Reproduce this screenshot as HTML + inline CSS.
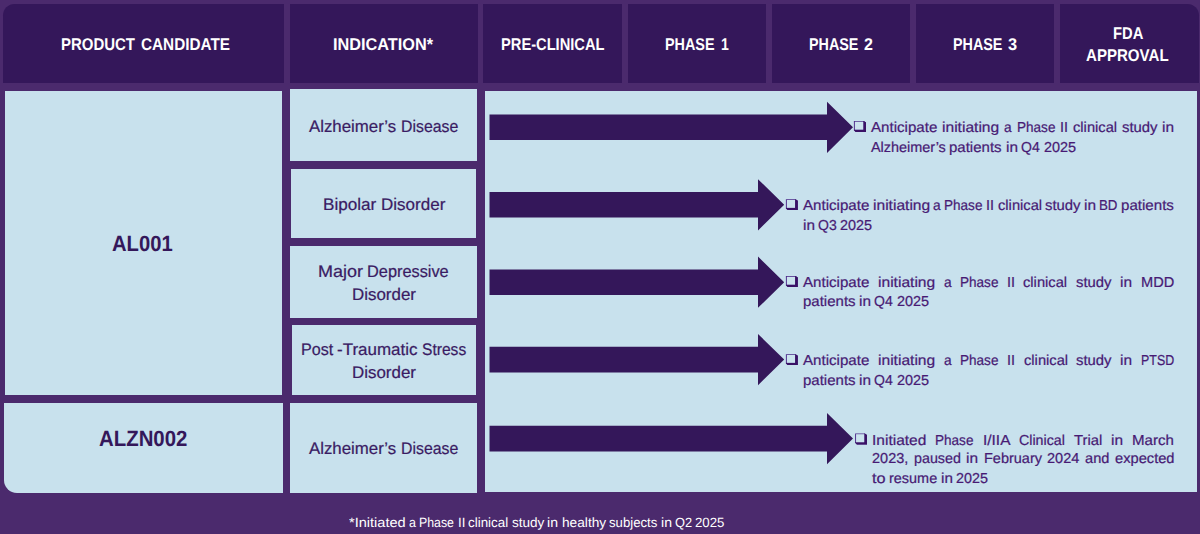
<!DOCTYPE html>
<html><head><meta charset="utf-8"><title>Pipeline</title>
<style>
html,body{margin:0;padding:0}
body{width:1200px;height:534px;background:#4b2a6d;position:relative;overflow:hidden;font-family:"Liberation Sans",sans-serif}
body>div,body>svg{position:absolute;box-sizing:content-box}
.t{white-space:nowrap;transform-origin:0 0;text-rendering:geometricPrecision;-webkit-text-stroke:0.22px currentColor}
</style></head><body>
<div style="left:2.7px;top:4.0px;width:281.2px;height:78.7px;background:#34175a;border-top-left-radius:11.5px;"></div>
<div style="left:289.9px;top:4.0px;width:187.9px;height:78.7px;background:#34175a;"></div>
<div style="left:483.35px;top:4.0px;width:138.5px;height:78.7px;background:#34175a;"></div>
<div style="left:627.75px;top:4.0px;width:138.25px;height:78.7px;background:#34175a;"></div>
<div style="left:772.0px;top:4.0px;width:138.0px;height:78.7px;background:#34175a;"></div>
<div style="left:916.15px;top:4.0px;width:138.35px;height:78.7px;background:#34175a;"></div>
<div style="left:1060.3px;top:4.0px;width:138.4px;height:78.7px;background:#34175a;border-top-right-radius:11.5px;"></div>
<div class="t" style="left:60.80px;top:35.00px;font-size:17.0px;line-height:19px;font-weight:700;-webkit-text-stroke:0;color:#fff;transform:scaleX(0.8804)">PRODUCT</div>
<div class="t" style="left:140.75px;top:35.00px;font-size:17.0px;line-height:19px;font-weight:700;-webkit-text-stroke:0;color:#fff;transform:scaleX(0.9005)">CANDIDATE</div>
<div class="t" style="left:333.20px;top:35.00px;font-size:17.0px;line-height:19px;font-weight:700;-webkit-text-stroke:0;color:#fff;transform:scaleX(0.9577)">INDICATION*</div>
<div class="t" style="left:501.20px;top:35.00px;font-size:17.0px;line-height:19px;font-weight:700;-webkit-text-stroke:0;color:#fff;transform:scaleX(0.8630)">PRE-CLINICAL</div>
<div class="t" style="left:664.70px;top:35.00px;font-size:17.0px;line-height:19px;font-weight:700;-webkit-text-stroke:0;color:#fff;transform:scaleX(0.8461)">PHASE</div>
<div class="t" style="left:720.70px;top:35.00px;font-size:17.0px;line-height:19px;font-weight:700;-webkit-text-stroke:0;color:#fff;transform:scaleX(0.8252)">1</div>
<div class="t" style="left:809.10px;top:35.00px;font-size:17.0px;line-height:19px;font-weight:700;-webkit-text-stroke:0;color:#fff;transform:scaleX(0.8435)">PHASE</div>
<div class="t" style="left:863.90px;top:35.00px;font-size:17.0px;line-height:19px;font-weight:700;-webkit-text-stroke:0;color:#fff;transform:scaleX(0.9416)">2</div>
<div class="t" style="left:952.80px;top:35.00px;font-size:17.0px;line-height:19px;font-weight:700;-webkit-text-stroke:0;color:#fff;transform:scaleX(0.8435)">PHASE</div>
<div class="t" style="left:1007.90px;top:35.00px;font-size:17.0px;line-height:19px;font-weight:700;-webkit-text-stroke:0;color:#fff;transform:scaleX(0.9628)">3</div>
<div class="t" style="left:1112.50px;top:24.00px;font-size:17.0px;line-height:19px;font-weight:700;-webkit-text-stroke:0;color:#fff;transform:scaleX(0.8673)">FDA</div>
<div class="t" style="left:1086.20px;top:46.00px;font-size:17.0px;line-height:19px;font-weight:700;-webkit-text-stroke:0;color:#fff;transform:scaleX(0.8863)">APPROVAL</div>
<div style="left:4.6px;top:90.5px;width:277.5px;height:304.4px;background:#c8e1ed;"></div>
<div style="left:3.8px;top:402.9px;width:279.3px;height:90.25px;background:#c8e1ed;border-bottom-left-radius:13px;"></div>
<div class="t" style="left:112.40px;top:231.00px;font-size:22px;line-height:25px;font-weight:700;-webkit-text-stroke:0;color:#34175a;transform:scaleX(0.9179)">AL001</div>
<div class="t" style="left:98.60px;top:426.00px;font-size:22px;line-height:25px;font-weight:700;-webkit-text-stroke:0;color:#34175a;transform:scaleX(0.9269)">ALZN002</div>
<div style="left:290.2px;top:89.1px;width:186.86px;height:72.1px;background:#c8e1ed;"></div>
<div style="left:291.4px;top:168.7px;width:184.64px;height:69.8px;background:#c8e1ed;"></div>
<div style="left:290.0px;top:245.87px;width:187.06px;height:72.16px;background:#c8e1ed;"></div>
<div style="left:291.5px;top:325.2px;width:184.54px;height:69.77px;background:#c8e1ed;"></div>
<div style="left:289.95px;top:402.8px;width:187.11px;height:90.65px;background:#c8e1ed;"></div>
<div class="t" style="left:309.20px;top:117px;font-size:16.8px;line-height:19px;color:#3a1b63;transform:scaleX(1.0016)">Alzheimer’s</div>
<div class="t" style="left:400.66px;top:117px;font-size:16.8px;line-height:19px;color:#3a1b63;transform:scaleX(0.9446)">Disease</div>
<div class="t" style="left:323.10px;top:195px;font-size:16.8px;line-height:19px;color:#3a1b63;transform:scaleX(1.0194)">Bipolar</div>
<div class="t" style="left:380.59px;top:195px;font-size:16.8px;line-height:19px;color:#3a1b63;transform:scaleX(1.0145)">Disorder</div>
<div class="t" style="left:318.20px;top:262px;font-size:16.8px;line-height:19px;color:#3a1b63;transform:scaleX(1.0726)">Major</div>
<div class="t" style="left:367.42px;top:262px;font-size:16.8px;line-height:19px;color:#3a1b63;transform:scaleX(0.9732)">Depressive</div>
<div class="t" style="left:351.80px;top:285px;font-size:16.8px;line-height:19px;color:#3a1b63;transform:scaleX(1.0081)">Disorder</div>
<div class="t" style="left:300.80px;top:340px;font-size:16.8px;line-height:19px;color:#3a1b63;transform:scaleX(0.9616)">Post</div>
<div class="t" style="left:337.25px;top:340px;font-size:16.8px;line-height:19px;color:#3a1b63;transform:scaleX(1.0115)">-Traumatic</div>
<div class="t" style="left:421.95px;top:340px;font-size:16.8px;line-height:19px;color:#3a1b63;transform:scaleX(0.9294)">Stress</div>
<div class="t" style="left:351.80px;top:363px;font-size:16.8px;line-height:19px;color:#3a1b63;transform:scaleX(1.0081)">Disorder</div>
<div class="t" style="left:309.20px;top:439px;font-size:16.8px;line-height:19px;color:#3a1b63;transform:scaleX(1.0016)">Alzheimer’s</div>
<div class="t" style="left:400.66px;top:439px;font-size:16.8px;line-height:19px;color:#3a1b63;transform:scaleX(0.9446)">Disease</div>
<div style="left:485.03px;top:90.5px;width:711.97px;height:401.4px;background:#c8e1ed;"></div>
<svg width="1200" height="534" style="left:0;top:0" fill="#34175a"><polygon points="489.5,114.5 827.0,114.5 827.0,101.7 853.0,127.3 827.0,152.9 827.0,140.1 489.5,140.1"/><polygon points="489.5,192.0 758.0,192.0 758.0,179.2 784.2,204.8 758.0,230.4 758.0,217.6 489.5,217.6"/><polygon points="489.5,269.4 758.0,269.4 758.0,256.6 784.2,282.2 758.0,307.8 758.0,295.0 489.5,295.0"/><polygon points="489.5,346.8 758.0,346.8 758.0,334.0 784.2,359.6 758.0,385.2 758.0,372.4 489.5,372.4"/><polygon points="489.5,425.8 827.0,425.8 827.0,413.0 853.0,438.6 827.0,464.2 827.0,451.4 489.5,451.4"/></svg>
<svg width="1200" height="534" style="left:0;top:0"><polygon points="853.90,120.90 863.80,120.90 866.00,122.40 866.00,131.90 855.70,131.90 853.90,130.20" fill="#4d2a8a"/><polygon points="863.25,121.10 863.80,120.90 866.00,122.40 866.00,131.90 855.70,131.90 853.90,130.20 854.10,129.65 863.25,129.65" fill="#3a1266"/><rect x="854.85" y="121.70" width="8.40" height="7.95" fill="#cbe3ee"/><polygon points="785.90,199.20 795.60,199.20 797.80,200.70 797.80,210.10 787.70,210.10 785.90,208.40" fill="#4d2a8a"/><polygon points="795.05,199.40 795.60,199.20 797.80,200.70 797.80,210.10 787.70,210.10 785.90,208.40 786.10,207.85 795.05,207.85" fill="#3a1266"/><rect x="786.85" y="200.00" width="8.20" height="7.85" fill="#cbe3ee"/><polygon points="785.90,276.00 795.60,276.00 797.80,277.50 797.80,286.90 787.70,286.90 785.90,285.20" fill="#4d2a8a"/><polygon points="795.05,276.20 795.60,276.00 797.80,277.50 797.80,286.90 787.70,286.90 785.90,285.20 786.10,284.65 795.05,284.65" fill="#3a1266"/><rect x="786.85" y="276.80" width="8.20" height="7.85" fill="#cbe3ee"/><polygon points="785.90,354.20 795.60,354.20 797.80,355.70 797.80,365.10 787.70,365.10 785.90,363.40" fill="#4d2a8a"/><polygon points="795.05,354.40 795.60,354.20 797.80,355.70 797.80,365.10 787.70,365.10 785.90,363.40 786.10,362.85 795.05,362.85" fill="#3a1266"/><rect x="786.85" y="355.00" width="8.20" height="7.85" fill="#cbe3ee"/><polygon points="855.10,433.40 864.80,433.40 867.00,434.90 867.00,444.50 856.90,444.50 855.10,442.80" fill="#4d2a8a"/><polygon points="864.25,433.60 864.80,433.40 867.00,434.90 867.00,444.50 856.90,444.50 855.10,442.80 855.30,442.25 864.25,442.25" fill="#3a1266"/><rect x="856.05" y="434.20" width="8.20" height="8.05" fill="#cbe3ee"/></svg>
<div class="t" style="left:871.00px;top:120px;font-size:14.4px;line-height:16px;color:#471a74;transform:scaleX(1.0486)">Anticipate</div>
<div class="t" style="left:942.14px;top:120px;font-size:14.4px;line-height:16px;color:#471a74;transform:scaleX(1.0833)">initiating</div>
<div class="t" style="left:1004.21px;top:120px;font-size:14.4px;line-height:16px;color:#471a74;transform:scaleX(0.9540)">a</div>
<div class="t" style="left:1016.67px;top:120px;font-size:14.4px;line-height:16px;color:#471a74;transform:scaleX(0.9413)">Phase</div>
<div class="t" style="left:1059.93px;top:120px;font-size:14.4px;line-height:16px;color:#471a74;transform:scaleX(1.0045)">II</div>
<div class="t" style="left:1072.80px;top:120px;font-size:14.4px;line-height:16px;color:#471a74;transform:scaleX(1.0217)">clinical</div>
<div class="t" style="left:1121.78px;top:120px;font-size:14.4px;line-height:16px;color:#471a74;transform:scaleX(1.0332)">study</div>
<div class="t" style="left:1162.16px;top:120px;font-size:14.4px;line-height:16px;color:#471a74;transform:scaleX(1.0743)">in</div>
<div class="t" style="left:871.00px;top:140px;font-size:14.4px;line-height:16px;color:#471a74;transform:scaleX(1.0026)">Alzheimer’s</div>
<div class="t" style="left:949.47px;top:140px;font-size:14.4px;line-height:16px;color:#471a74;transform:scaleX(1.0434)">patients</div>
<div class="t" style="left:1005.68px;top:140px;font-size:14.4px;line-height:16px;color:#471a74;transform:scaleX(1.0683)">in</div>
<div class="t" style="left:1021.24px;top:140px;font-size:14.4px;line-height:16px;color:#471a74;transform:scaleX(0.9741)">Q4</div>
<div class="t" style="left:1043.54px;top:140px;font-size:14.4px;line-height:16px;color:#471a74;transform:scaleX(1.0038)">2025</div>
<div class="t" style="left:803.00px;top:198px;font-size:14.4px;line-height:16px;color:#471a74;transform:scaleX(1.0486)">Anticipate</div>
<div class="t" style="left:872.69px;top:198px;font-size:14.4px;line-height:16px;color:#471a74;transform:scaleX(1.0833)">initiating</div>
<div class="t" style="left:933.30px;top:198px;font-size:14.4px;line-height:16px;color:#471a74;transform:scaleX(0.9540)">a</div>
<div class="t" style="left:944.32px;top:198px;font-size:14.4px;line-height:16px;color:#471a74;transform:scaleX(0.9413)">Phase</div>
<div class="t" style="left:986.13px;top:198px;font-size:14.4px;line-height:16px;color:#471a74;transform:scaleX(1.0045)">II</div>
<div class="t" style="left:997.54px;top:198px;font-size:14.4px;line-height:16px;color:#471a74;transform:scaleX(1.0217)">clinical</div>
<div class="t" style="left:1045.07px;top:198px;font-size:14.4px;line-height:16px;color:#471a74;transform:scaleX(1.0332)">study</div>
<div class="t" style="left:1084.01px;top:198px;font-size:14.4px;line-height:16px;color:#471a74;transform:scaleX(1.0743)">in</div>
<div class="t" style="left:1099.42px;top:198px;font-size:14.4px;line-height:16px;color:#471a74;transform:scaleX(0.9243)">BD</div>
<div class="t" style="left:1121.29px;top:198px;font-size:14.4px;line-height:16px;color:#471a74;transform:scaleX(1.0493)">patients</div>
<div class="t" style="left:802.60px;top:218px;font-size:14.4px;line-height:16px;color:#471a74;transform:scaleX(1.0665)">in</div>
<div class="t" style="left:818.13px;top:218px;font-size:14.4px;line-height:16px;color:#471a74;transform:scaleX(0.9724)">Q3</div>
<div class="t" style="left:840.39px;top:218px;font-size:14.4px;line-height:16px;color:#471a74;transform:scaleX(1.0021)">2025</div>
<div class="t" style="left:803.00px;top:275px;font-size:14.4px;line-height:16px;color:#471a74;transform:scaleX(1.0486)">Anticipate</div>
<div class="t" style="left:877.88px;top:275px;font-size:14.4px;line-height:16px;color:#471a74;transform:scaleX(1.0833)">initiating</div>
<div class="t" style="left:943.68px;top:275px;font-size:14.4px;line-height:16px;color:#471a74;transform:scaleX(0.9540)">a</div>
<div class="t" style="left:959.89px;top:275px;font-size:14.4px;line-height:16px;color:#471a74;transform:scaleX(0.9413)">Phase</div>
<div class="t" style="left:1006.89px;top:275px;font-size:14.4px;line-height:16px;color:#471a74;transform:scaleX(1.0045)">II</div>
<div class="t" style="left:1023.49px;top:275px;font-size:14.4px;line-height:16px;color:#471a74;transform:scaleX(1.0217)">clinical</div>
<div class="t" style="left:1076.21px;top:275px;font-size:14.4px;line-height:16px;color:#471a74;transform:scaleX(1.0332)">study</div>
<div class="t" style="left:1120.34px;top:275px;font-size:14.4px;line-height:16px;color:#471a74;transform:scaleX(1.0743)">in</div>
<div class="t" style="left:1140.94px;top:275px;font-size:14.4px;line-height:16px;color:#471a74;transform:scaleX(1.0143)">MDD</div>
<div class="t" style="left:802.60px;top:294px;font-size:14.4px;line-height:16px;color:#471a74;transform:scaleX(1.0432)">patients</div>
<div class="t" style="left:858.80px;top:294px;font-size:14.4px;line-height:16px;color:#471a74;transform:scaleX(1.0680)">in</div>
<div class="t" style="left:874.35px;top:294px;font-size:14.4px;line-height:16px;color:#471a74;transform:scaleX(0.9738)">Q4</div>
<div class="t" style="left:896.65px;top:294px;font-size:14.4px;line-height:16px;color:#471a74;transform:scaleX(1.0036)">2025</div>
<div class="t" style="left:803.00px;top:353px;font-size:14.4px;line-height:16px;color:#471a74;transform:scaleX(1.0486)">Anticipate</div>
<div class="t" style="left:877.89px;top:353px;font-size:14.4px;line-height:16px;color:#471a74;transform:scaleX(1.0833)">initiating</div>
<div class="t" style="left:943.71px;top:353px;font-size:14.4px;line-height:16px;color:#471a74;transform:scaleX(0.9540)">a</div>
<div class="t" style="left:959.93px;top:353px;font-size:14.4px;line-height:16px;color:#471a74;transform:scaleX(0.9413)">Phase</div>
<div class="t" style="left:1006.94px;top:353px;font-size:14.4px;line-height:16px;color:#471a74;transform:scaleX(1.0045)">II</div>
<div class="t" style="left:1023.56px;top:353px;font-size:14.4px;line-height:16px;color:#471a74;transform:scaleX(1.0217)">clinical</div>
<div class="t" style="left:1076.29px;top:353px;font-size:14.4px;line-height:16px;color:#471a74;transform:scaleX(1.0332)">study</div>
<div class="t" style="left:1120.43px;top:353px;font-size:14.4px;line-height:16px;color:#471a74;transform:scaleX(1.0743)">in</div>
<div class="t" style="left:1141.05px;top:353px;font-size:14.4px;line-height:16px;color:#471a74;transform:scaleX(0.8633)">PTSD</div>
<div class="t" style="left:802.60px;top:373px;font-size:14.4px;line-height:16px;color:#471a74;transform:scaleX(1.0432)">patients</div>
<div class="t" style="left:858.80px;top:373px;font-size:14.4px;line-height:16px;color:#471a74;transform:scaleX(1.0680)">in</div>
<div class="t" style="left:874.35px;top:373px;font-size:14.4px;line-height:16px;color:#471a74;transform:scaleX(0.9738)">Q4</div>
<div class="t" style="left:896.65px;top:373px;font-size:14.4px;line-height:16px;color:#471a74;transform:scaleX(1.0036)">2025</div>
<div class="t" style="left:871.90px;top:433px;font-size:14.4px;line-height:16px;color:#471a74;transform:scaleX(1.0778)">Initiated</div>
<div class="t" style="left:935.24px;top:433px;font-size:14.4px;line-height:16px;color:#471a74;transform:scaleX(0.9413)">Phase</div>
<div class="t" style="left:982.65px;top:433px;font-size:14.4px;line-height:16px;color:#471a74;transform:scaleX(1.0718)">I/IIA</div>
<div class="t" style="left:1019.07px;top:433px;font-size:14.4px;line-height:16px;color:#471a74;transform:scaleX(0.9892)">Clinical</div>
<div class="t" style="left:1073.96px;top:433px;font-size:14.4px;line-height:16px;color:#471a74;transform:scaleX(1.0302)">Trial</div>
<div class="t" style="left:1111.23px;top:433px;font-size:14.4px;line-height:16px;color:#471a74;transform:scaleX(1.0743)">in</div>
<div class="t" style="left:1132.24px;top:433px;font-size:14.4px;line-height:16px;color:#471a74;transform:scaleX(1.0488)">March</div>
<div class="t" style="left:872.00px;top:451px;font-size:14.4px;line-height:16px;color:#471a74;transform:scaleX(1.0078)">2023,</div>
<div class="t" style="left:913.75px;top:451px;font-size:14.4px;line-height:16px;color:#471a74;transform:scaleX(0.9939)">paused</div>
<div class="t" style="left:966.13px;top:451px;font-size:14.4px;line-height:16px;color:#471a74;transform:scaleX(1.0743)">in</div>
<div class="t" style="left:983.60px;top:451px;font-size:14.4px;line-height:16px;color:#471a74;transform:scaleX(1.0067)">February</div>
<div class="t" style="left:1047.04px;top:451px;font-size:14.4px;line-height:16px;color:#471a74;transform:scaleX(1.0094)">2024</div>
<div class="t" style="left:1084.80px;top:451px;font-size:14.4px;line-height:16px;color:#471a74;transform:scaleX(1.0156)">and</div>
<div class="t" style="left:1114.63px;top:451px;font-size:14.4px;line-height:16px;color:#471a74;transform:scaleX(1.0192)">expected</div>
<div class="t" style="left:872.00px;top:471px;font-size:14.4px;line-height:16px;color:#471a74;transform:scaleX(1.1312)">to</div>
<div class="t" style="left:889.15px;top:471px;font-size:14.4px;line-height:16px;color:#471a74;transform:scaleX(1.0037)">resume</div>
<div class="t" style="left:940.90px;top:471px;font-size:14.4px;line-height:16px;color:#471a74;transform:scaleX(1.0611)">in</div>
<div class="t" style="left:956.36px;top:471px;font-size:14.4px;line-height:16px;color:#471a74;transform:scaleX(0.9970)">2025</div>
<div class="t" style="left:349.20px;top:515px;font-size:13.4px;line-height:15px;color:#fff;-webkit-text-stroke:0;transform:scaleX(1.0872)">*Initiated</div>
<div class="t" style="left:409.17px;top:515px;font-size:13.4px;line-height:15px;color:#fff;-webkit-text-stroke:0;transform:scaleX(0.9328)">a</div>
<div class="t" style="left:419.41px;top:515px;font-size:13.4px;line-height:15px;color:#fff;-webkit-text-stroke:0;transform:scaleX(0.9205)">Phase</div>
<div class="t" style="left:457.66px;top:515px;font-size:13.4px;line-height:15px;color:#fff;-webkit-text-stroke:0;transform:scaleX(0.9822)">II</div>
<div class="t" style="left:468.26px;top:515px;font-size:13.4px;line-height:15px;color:#fff;-webkit-text-stroke:0;transform:scaleX(0.9990)">clinical</div>
<div class="t" style="left:511.71px;top:515px;font-size:13.4px;line-height:15px;color:#fff;-webkit-text-stroke:0;transform:scaleX(1.0103)">study</div>
<div class="t" style="left:547.35px;top:515px;font-size:13.4px;line-height:15px;color:#fff;-webkit-text-stroke:0;transform:scaleX(1.0505)">in</div>
<div class="t" style="left:561.59px;top:515px;font-size:13.4px;line-height:15px;color:#fff;-webkit-text-stroke:0;transform:scaleX(1.0226)">healthy</div>
<div class="t" style="left:609.05px;top:515px;font-size:13.4px;line-height:15px;color:#fff;-webkit-text-stroke:0;transform:scaleX(0.9825)">subjects</div>
<div class="t" style="left:660.63px;top:515px;font-size:13.4px;line-height:15px;color:#fff;-webkit-text-stroke:0;transform:scaleX(1.0505)">in</div>
<div class="t" style="left:674.87px;top:515px;font-size:13.4px;line-height:15px;color:#fff;-webkit-text-stroke:0;transform:scaleX(0.9578)">Q2</div>
<div class="t" style="left:695.27px;top:515px;font-size:13.4px;line-height:15px;color:#fff;-webkit-text-stroke:0;transform:scaleX(0.9870)">2025</div>
</body></html>
